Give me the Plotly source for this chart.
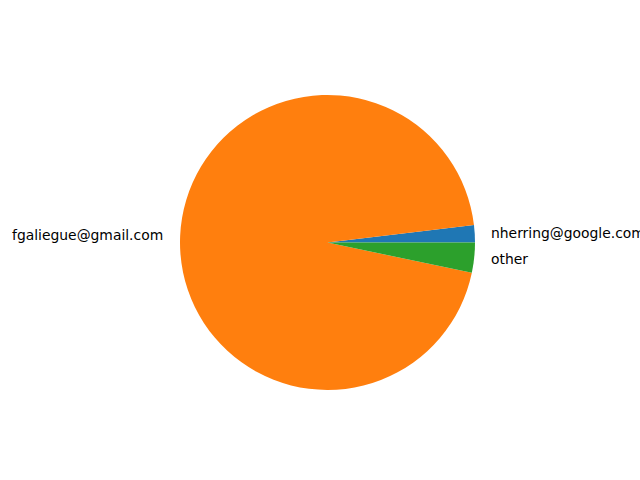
import math
import plotly.graph_objects as go

labels = ["nherring@google.com", "fgaliegue@gmail.com", "other"]
values = [1.9, 94.8, 3.3]
colors = ["#1f77b4", "#ff7f0e", "#2ca02c"]

W, H = 640, 480
cx, cy = 327.5, 237.5  # center in pixels, from bottom-left
r = 147.5

total = sum(values)
first_deg = values[0] / total * 360

fig = go.Figure(go.Pie(
    labels=labels, values=values, sort=False, direction="counterclockwise",
    rotation=90 - first_deg, textinfo="none", hoverinfo="label+percent",
    marker=dict(colors=colors, line=dict(width=0)),
    domain=dict(x=[(cx - r) / W, (cx + r) / W], y=[(cy - r) / H, (cy + r) / H]),
    showlegend=False,
))

start = 0.0
annotations = []
for lab, v in zip(labels, values):
    frac = v / total
    mid = (start + frac / 2) * 2 * math.pi
    start += frac
    x = cx + 1.1 * r * math.cos(mid)
    y = cy + 1.1 * r * math.sin(mid)
    annotations.append(dict(
        x=x / W, y=y / H, xref="paper", yref="paper", text=lab, showarrow=False,
        xanchor="left" if math.cos(mid) > 0 else "right", yanchor="middle",
        font=dict(family="DejaVu Sans", size=13.9, color="black"),
    ))

fig.update_layout(
    width=W, height=H, margin=dict(l=0, r=0, t=0, b=0),
    paper_bgcolor="white", plot_bgcolor="white", annotations=annotations,
)
fig.write_html("out.html")
